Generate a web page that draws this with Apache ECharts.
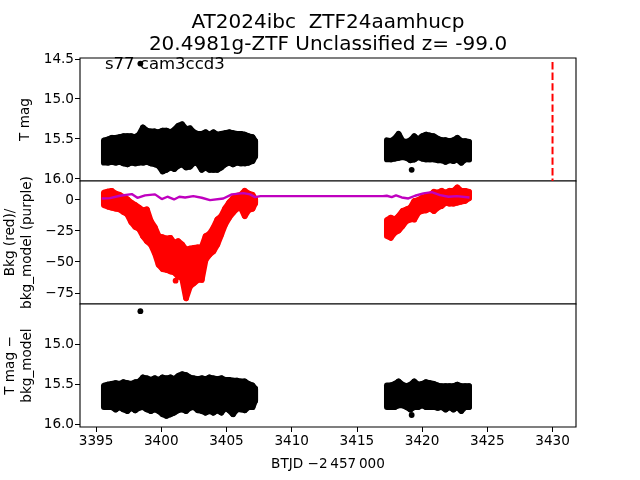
<!DOCTYPE html>
<html>
<head>
<meta charset="utf-8">
<style>html,body{margin:0;padding:0;background:#fff}#c{width:640px;height:480px}</style>
<script src="https://cdn.jsdelivr.net/npm/echarts@6/dist/echarts.min.js"></script>
</head>
<body>
<div id="c"></div>
<script>
const titleText = "AT2024ibc  ZTF24aamhucp\n20.4981g-ZTF Unclassified z= -99.0";
const sectorText = "s77 cam3ccd3";
const xTicks = [3395, 3400, 3405, 3410, 3415, 3420, 3425, 3430];
const magTicks = [14.5, 15.0, 15.5, 16.0];
const bkgTicks = [0, -25, -50, -75];
const diffTicks = [15.0, 15.5, 16.0];
const peakTime = [3430, 3430];
const peakMag = [14.54, 16.03];

const timesA = [3395.6,3395.9,3396.2,3396.5,3396.8,3397.1,3397.4,3397.7,3398.0,3398.3,3398.6,3398.9,3399.2,3399.5,3399.8,3400.1,3400.4,3400.7,3401.0,3401.3,3401.6,3401.9,3402.2,3402.5,3402.8,3403.1,3403.4,3403.7,3404.0,3404.3,3404.6,3404.9,3405.2,3405.5,3405.8,3406.1,3406.4,3406.7,3407.0,3407.2];
const timesB = [3417.3,3417.6,3417.9,3418.2,3418.5,3418.8,3419.1,3419.4,3419.7,3420.0,3420.3,3420.6,3420.9,3421.2,3421.5,3421.8,3422.1,3422.4,3422.7,3423.0,3423.3,3423.6];

// T mag: bright and faint edges of the point cloud per time step
const magBrightA = [15.52,15.51,15.49,15.49,15.48,15.47,15.47,15.47,15.48,15.45,15.36,15.40,15.41,15.41,15.42,15.40,15.40,15.42,15.39,15.34,15.32,15.38,15.37,15.42,15.44,15.44,15.42,15.45,15.42,15.45,15.44,15.43,15.42,15.43,15.44,15.44,15.45,15.47,15.48,15.53];
const magFaintA = [15.80,15.80,15.79,15.80,15.79,15.81,15.82,15.80,15.81,15.80,15.80,15.79,15.81,15.82,15.84,15.91,15.89,15.86,15.88,15.84,15.82,15.86,15.85,15.80,15.81,15.89,15.86,15.89,15.89,15.89,15.86,15.82,15.80,15.82,15.80,15.81,15.81,15.80,15.78,15.72];
const magBrightB = [15.52,15.53,15.50,15.44,15.53,15.54,15.52,15.47,15.51,15.47,15.45,15.46,15.47,15.50,15.52,15.52,15.53,15.52,15.49,15.53,15.53,15.54];
const magFaintB = [15.76,15.76,15.75,15.74,15.73,15.74,15.77,15.76,15.73,15.75,15.76,15.76,15.76,15.77,15.77,15.79,15.77,15.78,15.76,15.80,15.76,15.76];
const magOutT = [3398.4, 3419.2];
const magOutV = [14.56, 15.89];

// Background flux: upper and lower edges per time step
const bkgHighA = [5.2,6.0,6.6,4.4,3.4,1.7,-0.1,-2.8,-4.7,-6.9,-9.0,-8.2,-17.6,-22.4,-29.7,-30.5,-31.6,-31.0,-35.1,-33.7,-36.4,-40.5,-39.7,-39.1,-38.6,-38.6,-29.7,-27.8,-23.0,-16.3,-13.6,-7.4,-2.8,0.7,2.6,3.4,6.6,4.4,3.4,-0.1];
const bkgLowA = [-5.0,-6.0,-6.9,-7.7,-8.2,-10.3,-12.2,-18.4,-22.2,-23.8,-29.7,-33.7,-36.4,-43.1,-52.6,-56.0,-56.6,-57.9,-58.7,-62.0,-63.3,-79.4,-70.0,-67.3,-64.7,-64.7,-48.5,-44.5,-41.8,-36.4,-28.4,-20.3,-14.9,-10.9,-7.7,-6.9,-13.6,-8.7,-7.7,-3.4];
const bkgHighB = [-16.8,-14.9,-16.3,-13.6,-9.5,-8.2,-6.9,-1.5,-0.7,1.2,2.0,3.1,5.8,5.2,6.6,5.2,6.6,6.6,9.3,6.6,6.6,5.8];
const bkgLowB = [-29.7,-31.0,-27.0,-25.1,-21.6,-17.6,-16.3,-16.3,-10.9,-9.5,-9.0,-7.4,-9.5,-6.9,-5.5,-2.8,-3.6,-3.6,-2.8,-2.0,-1.5,0.7];
const bkgOutT = [3401.1];
const bkgOutV = [-65.3];

// Background model (purple line)
const modelT = [3395.43,3396.07,3396.84,3397.74,3398.17,3398.76,3399.52,3400.04,3400.47,3400.98,3401.39,3401.83,3402.46,3403.1,3403.74,3404.76,3405.41,3406.3,3406.81,3407.19,3407.6,3417.0,3417.29,3417.67,3418.0,3418.44,3418.95,3419.46,3420.1,3420.74,3421.38,3422.02,3422.66,3423.63];
const modelV = [0.5,0.8,2.7,4.0,1.0,3.0,3.8,0.0,1.9,-0.3,1.9,1.3,2.4,1.1,-0.8,0.5,3.8,4.8,3.8,1.6,2.4,2.4,2.7,1.6,3.0,1.3,0.5,2.7,4.6,5.6,3.2,1.9,2.4,1.3];

// T mag - bkg_model
const diffBrightA = [15.52,15.51,15.50,15.49,15.50,15.48,15.49,15.50,15.48,15.47,15.42,15.43,15.45,15.43,15.45,15.42,15.43,15.42,15.44,15.40,15.38,15.39,15.42,15.43,15.44,15.43,15.44,15.42,15.43,15.44,15.43,15.45,15.45,15.46,15.46,15.47,15.47,15.50,15.52,15.56];
const diffFaintA = [15.79,15.79,15.79,15.82,15.79,15.82,15.84,15.80,15.83,15.80,15.79,15.82,15.84,15.82,15.84,15.88,15.90,15.88,15.86,15.83,15.82,15.84,15.80,15.79,15.83,15.84,15.86,15.84,15.86,15.83,15.86,15.80,15.83,15.88,15.82,15.82,15.83,15.79,15.79,15.71];
const diffBrightB = [15.52,15.52,15.50,15.47,15.51,15.53,15.51,15.47,15.51,15.50,15.48,15.49,15.50,15.52,15.53,15.53,15.53,15.53,15.51,15.53,15.53,15.53];
const diffFaintB = [15.79,15.79,15.79,15.77,15.77,15.79,15.82,15.79,15.79,15.77,15.79,15.79,15.79,15.80,15.79,15.82,15.79,15.82,15.79,15.84,15.79,15.79];
const diffOutT = [3398.4, 3419.2];
const diffOutV = [14.59, 15.89];

const FONT = "DejaVu Sans";
const INK = '#000';
const pairs = (xs, ys) => xs.map((x, i) => [x, ys[i]]);
const ranges = (ts, a, b) => ts.map((t, i) => [t, a[i], b[i]]);

// Each step joins two neighbouring time columns; the round-joined stroke gives the dot radius.
function rangeSeries(idx, color, ts, a, b, z) {
  return {
    type: 'custom', xAxisIndex: idx, yAxisIndex: idx, z: z, silent: true,
    data: ranges(ts, a, b),
    encode: { x: 0, y: [1, 2] },
    renderItem: function (params, api) {
      const i = params.dataIndex;
      const j = Math.min(i + 1, ts.length - 1);
      const pts = [
        api.coord([ts[i], a[i]]), api.coord([ts[j], a[j]]),
        api.coord([ts[j], b[j]]), api.coord([ts[i], b[i]])
      ];
      return {
        type: 'polygon',
        shape: { points: pts },
        style: { fill: color, stroke: color, lineWidth: 5.8, lineJoin: 'round' }
      };
    }
  };
}
function dotSeries(idx, color, ts, vs, z) {
  return { type: 'scatter', xAxisIndex: idx, yAxisIndex: idx, z: z, silent: true,
    symbolSize: 5.8, itemStyle: { color: color, opacity: 1 }, data: pairs(ts, vs) };
}

const lefts = 80, width = 496;
const grids = [58, 181, 304].map(t => ({ left: lefts, width: width, top: t, height: 123, show: true,
  borderColor: '#000', borderWidth: 1.1, backgroundColor: '#fff', outerBoundsMode: 'none', containLabel: false }));

function xAxis(i, showLabels) {
  return {
    type: 'value', gridIndex: i, min: 3393.77, max: 3431.8, splitLine: { show: false },
    axisLine: { show: false },
    axisTick: { show: showLabels, length: 5, lineStyle: { color: '#000', width: 1 }, customValues: xTicks },
    axisLabel: { show: showLabels, color: INK, fontFamily: FONT, fontSize: 13.6, margin: 7.5, customValues: xTicks, formatter: v => String(v) },
    name: showLabels ? "BTJD \u22122\u2009457\u2009000" : '',
    nameLocation: 'middle', nameGap: 30, nameMoveOverlap: false,
    nameTextStyle: { color: INK, fontFamily: FONT, fontSize: 13.6 }
  };
}
function yAxis(i, min, max, inverse, ticks, fmt, name, gap) {
  return {
    type: 'value', gridIndex: i, min: min, max: max, inverse: inverse, splitLine: { show: false },
    axisLine: { show: false },
    axisTick: { show: true, length: 5, lineStyle: { color: '#000', width: 1 }, customValues: ticks },
    axisLabel: { color: INK, fontFamily: FONT, fontSize: 13.6, margin: 6, customValues: ticks,
      formatter: v => '{t|' + fmt(v) + '}',
      rich: { t: { color: INK, fontFamily: FONT, fontSize: 13.6, padding: [2, 0, 0, 0] } } },
    name: name, nameLocation: 'middle', nameRotate: 90, nameGap: gap, nameMoveOverlap: false,
    nameTextStyle: { color: INK, fontFamily: FONT, fontSize: 13.6, lineHeight: 17 }
  };
}
const f1 = v => v.toFixed(1);
const f0 = v => String(v).replace('-', '\u2212');

const chart = echarts.init(document.getElementById('c'), null, { renderer: 'canvas' });
chart.setOption({
  animation: false,
  backgroundColor: '#fff',
  title: {
    text: titleText, left: 323, top: 7, textAlign: 'center',
    textStyle: { color: INK, fontFamily: FONT, fontSize: 20, fontWeight: 'normal', lineHeight: 22 }
  },
  graphic: [{
    type: 'text', left: 105, top: 56, z: 50,
    style: { text: sectorText, fill: INK, font: '16.5px "DejaVu Sans"' }
  }],
  grid: grids,
  xAxis: [xAxis(0, false), xAxis(1, false), xAxis(2, true)],
  yAxis: [
    yAxis(0, 14.49, 16.03, true, magTicks, f1, 'T mag', 46),
    yAxis(1, -84, 14.5, false, bkgTicks, f0, 'Bkg (red)/\nbkg_model (purple)', 44),
    yAxis(2, 14.5, 16.04, true, diffTicks, f1, 'T mag \u2212\nbkg_model', 44)
  ],
  series: [
    rangeSeries(0, '#000', timesA, magBrightA, magFaintA, 2),
    rangeSeries(0, '#000', timesB, magBrightB, magFaintB, 2),
    dotSeries(0, '#000', magOutT, magOutV, 2),
    { type: 'line', xAxisIndex: 0, yAxisIndex: 0, z: 3, silent: true, symbol: 'none',
      lineStyle: { color: '#f00', width: 2, type: [7.4, 3.2] }, data: pairs(peakTime, peakMag) },
    rangeSeries(1, '#f00', timesA, bkgHighA, bkgLowA, 2),
    rangeSeries(1, '#f00', timesB, bkgHighB, bkgLowB, 2),
    dotSeries(1, '#f00', bkgOutT, bkgOutV, 2),
    { type: 'line', xAxisIndex: 1, yAxisIndex: 1, z: 4, silent: true, symbol: 'none',
      lineStyle: { color: '#bf00bf', width: 2.4 }, data: pairs(modelT, modelV) },
    rangeSeries(2, '#000', timesA, diffBrightA, diffFaintA, 2),
    rangeSeries(2, '#000', timesB, diffBrightB, diffFaintB, 2),
    dotSeries(2, '#000', diffOutT, diffOutV, 2)
  ]
});
</script>
</body>
</html>
